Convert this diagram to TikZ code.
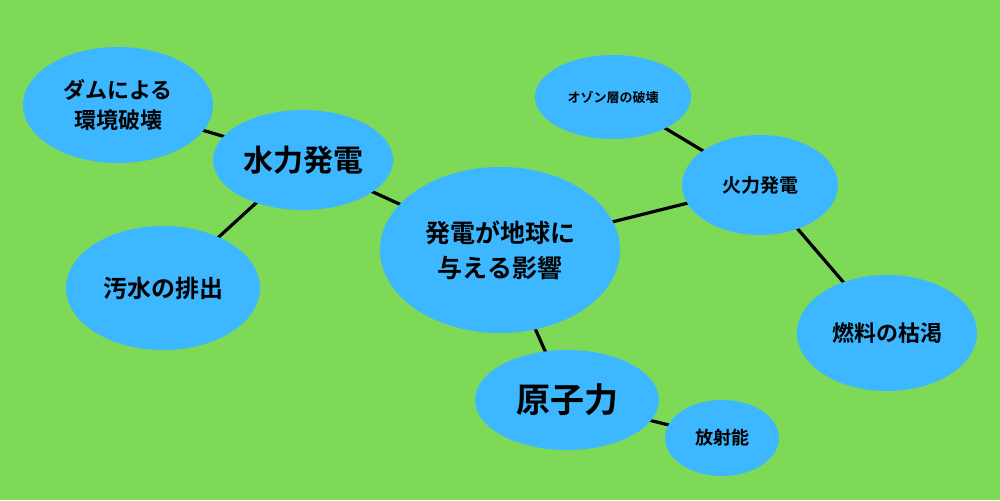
\documentclass[tikz,border=0pt]{standalone}
\usepackage{fontspec}
\setmainfont{Noto Sans CJK JP}[BoldFont={Noto Sans CJK JP Bold}]
\usetikzlibrary{shapes.geometric}
\definecolor{bg}{HTML}{7ED957}
\definecolor{bub}{HTML}{3DB7FF}
\tikzset{
 bubble/.style={ellipse,fill=bub,inner sep=0pt,align=center,font=\bfseries},
 link/.style={line width=1.6pt,black}
}
\newcommand{\bub}[6]{\node[bubble,minimum width=#3pt,minimum height=#4pt,font=\bfseries\fontsize{#5}{1.4\dimexpr#5pt\relax}\selectfont] (#1) at #2 {#6};}
\begin{document}
\begin{tikzpicture}[x=0.5pt,y=-0.5pt]
\fill[bg] (0,0) rectangle (1000,500);
\useasboundingbox (0,0) rectangle (1000,500);
\coordinate (cdam) at (118,105);
\coordinate (chyd) at (303,160);
\coordinate (csew) at (163,288);
\coordinate (ccen) at (500,250);
\coordinate (coz) at (613,97);
\coordinate (cfir) at (760,185);
\coordinate (cfuel) at (887,333);
\coordinate (cnuc) at (567,400);
\coordinate (crad) at (722,438);
\draw[link] (cdam)--(chyd);
\draw[link] (chyd)--(ccen);
\draw[link] (chyd)--(csew);
\draw[link] (ccen)--(cfir);
\draw[link] (coz)--(cfir);
\draw[link] (cfir)--(cfuel);
\draw[link] (ccen)--(cnuc);
\draw[link] (cnuc)--(crad);
\bub{dam}{(cdam)}{95}{58}{11}{ダムによる\\環境破壊}
\bub{hyd}{(chyd)}{90}{50}{15}{水力発電}
\bub{sew}{(csew)}{97}{62}{12}{汚水の排出}
\bub{cen}{(ccen)}{120}{83}{12.5}{発電が地球に\\与える影響}
\bub{oz}{(coz)}{78}{42}{6.5}{オゾン層の破壊}
\bub{fir}{(cfir)}{78}{50}{9.5}{火力発電}
\bub{fuel}{(cfuel)}{90}{58}{11}{燃料の枯渇}
\bub{nuc}{(cnuc)}{92}{50}{17}{原子力}
\bub{rad}{(crad)}{57}{38}{9}{放射能}
\end{tikzpicture}
\end{document}
